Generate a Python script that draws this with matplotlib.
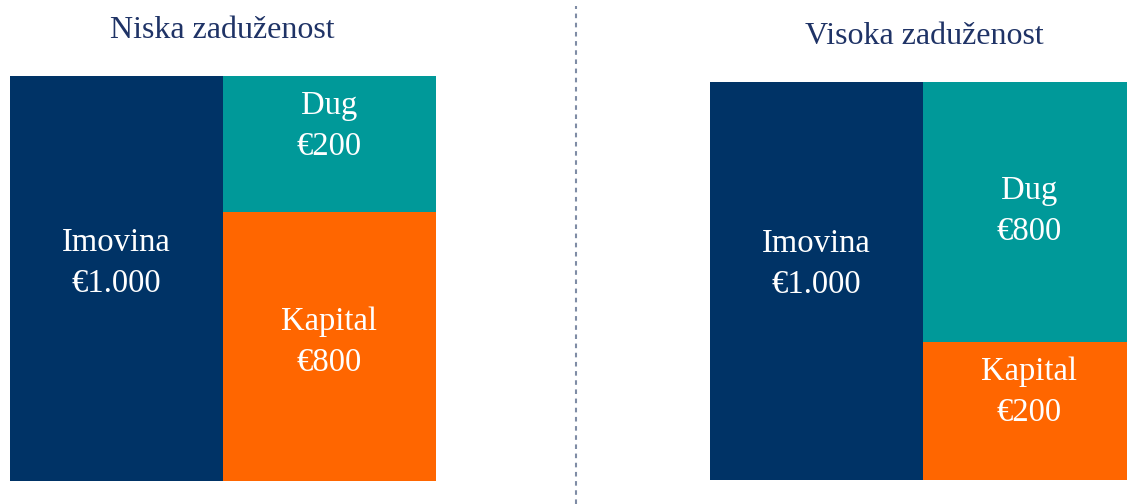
import matplotlib
matplotlib.use("Agg")
import matplotlib.pyplot as plt
from matplotlib.lines import Line2D

# ---- data ----
panel_titles = ["Niska zaduženost", "Visoka zaduženost"]
asset_label = "Imovina"
debt_label = "Dug"
equity_label = "Kapital"
assets = [1000, 1000]
debt = [200, 800]
equity = [800, 200]
# share of the right column taken by the debt block, as drawn in the picture
debt_display_share = [0.336, 0.653]

# ---- style ----
C_ASSET = "#003366"
C_DEBT = "#009999"
C_EQUITY = "#FF6600"
C_TITLE = "#1F3366"
FONT = "Liberation Serif"

W, H = 1127, 504
fig = plt.figure(figsize=(W / 100, H / 100), dpi=100)


def fmt(v):
    s = f"{v:,}".replace(",", ".")
    return "€" + s


# axes rectangles in pixels: left, top, width, height
rects = [(9.5, 76, 426.5, 405), (710, 82, 426, 398)]
title_pos = [(222, 30), (924, 37)]
# text y positions (pixels from top) for each block centre of label pair
txt_y = [
    {"asset": 263, "debt": 126, "equity": 342},
    {"asset": 264, "debt": 211, "equity": 392},
]

for i in range(2):
    l, t, w, h = rects[i]
    ax = fig.add_axes([l / W, (H - t - h) / H, w / W, h / H])
    total = assets[i]
    dh = total * debt_display_share[i]
    eh = total - dh
    ax.bar([0], [total], width=1, align="edge", color=C_ASSET, linewidth=0)
    ax.bar([1], [eh], width=1, align="edge", color=C_EQUITY, linewidth=0)
    ax.bar([1], [dh], bottom=[eh], width=1, align="edge", color=C_DEBT, linewidth=0)
    ax.set_xlim(0, 2)
    ax.set_ylim(0, total)
    ax.axis("off")

    def ty(py):
        return 1 - (py - t) / h

    kw = dict(transform=ax.get_xaxis_transform(), ha="center", va="center",
              color="white", fontsize=23.5, family=FONT, linespacing=1.45)
    ax.text(0.5, ty(txt_y[i]["asset"]), f"{asset_label}\n{fmt(assets[i])}", **kw)
    ax.text(1.5, ty(txt_y[i]["debt"]), f"{debt_label}\n{fmt(debt[i])}", **kw)
    ax.text(1.5, ty(txt_y[i]["equity"]), f"{equity_label}\n{fmt(equity[i])}", **kw)

    fig.text(title_pos[i][0] / W, 1 - title_pos[i][1] / H, panel_titles[i],
             ha="center", va="center", color=C_TITLE, fontsize=23, family=FONT)

line = Line2D([576 / W, 576 / W], [0, 1 - 6 / H], transform=fig.transFigure,
              color="#7F8CA5", linewidth=1.5, linestyle=(0, (2.2, 2.2)))
fig.add_artist(line)

fig.savefig("out.png", dpi=100, facecolor="white")
